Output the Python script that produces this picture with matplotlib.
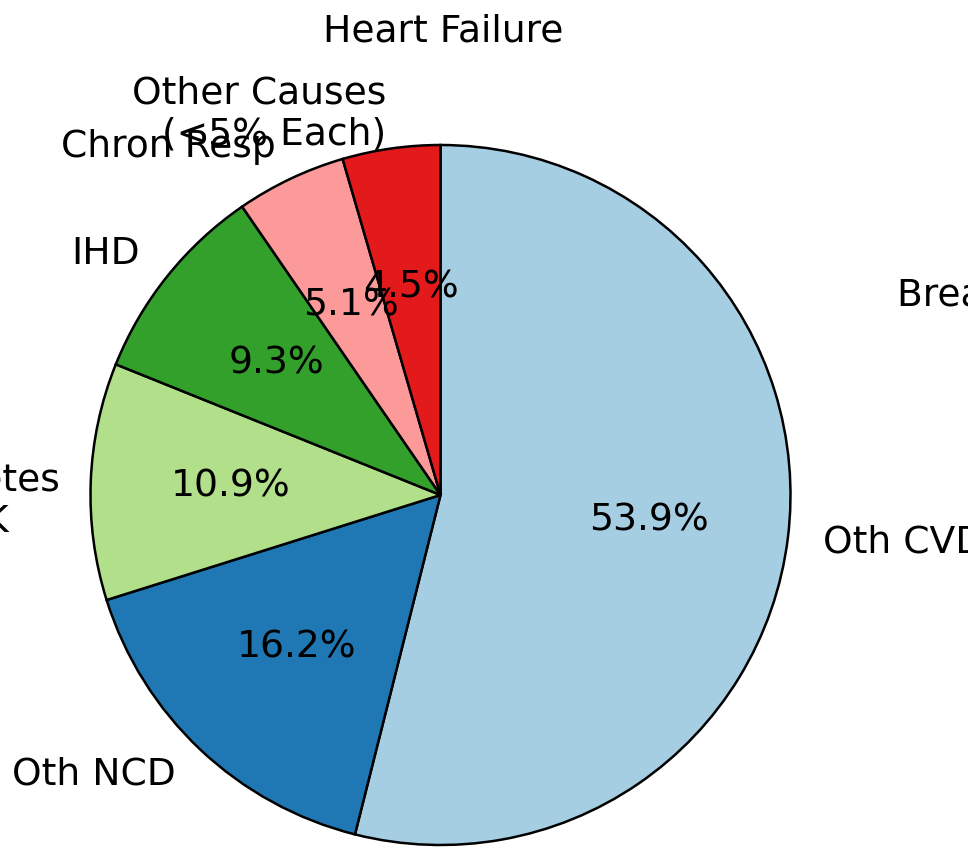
import matplotlib
matplotlib.use("Agg")
import matplotlib.pyplot as plt

# Data (clockwise from 12 o'clock)
categories = ["Oth CVD", "Oth NCD", "T2\nDiabetes\n/CK", "IHD", "Chron Resp",
              "Other Causes\n(<5% Each)"]
shares = [53.93, 16.22, 10.94, 9.32, 5.08, 4.51]
colors = ["#a6cee3", "#1f78b4", "#b2df8a", "#33a02c", "#fb9a99", "#e31a1c"]
title_text = "Heart Failure"
side_text = "Breast Cancer"

FS = 27.1
W, H = 968, 852
cx, cy, R = 440.5, 495, 350

fig = plt.figure(figsize=(W / 100, H / 100), dpi=100)
ax = fig.add_axes([0, 0, 1, 1])

wedges, texts, autotexts = ax.pie(
    shares, labels=categories, colors=colors, startangle=90,
    counterclock=False, autopct="%1.1f%%", pctdistance=0.6,
    labeldistance=1.1, frame=True,
    wedgeprops=dict(edgecolor="black", linewidth=1.8),
    textprops=dict(fontsize=FS, color="black"),
)
ax.set_xlim(-cx / R, (W - cx) / R)
ax.set_ylim(-(H - cy) / R, cy / R)
ax.set_aspect("auto")
ax.axis("off")
for t in texts:
    if "Diabetes" in t.get_text():
        t.set_multialignment("center")
        x, y = t.get_position()
        t.set_position((x + 4 / R, y))

ax.text((443 - cx) / R, (cy - 32) / R, title_text, fontsize=FS,
        ha="center", va="center")
ax.text((897 - cx) / R, (cy - 297) / R, side_text, fontsize=FS,
        ha="left", va="center")

fig.savefig("out.png", dpi=100)
